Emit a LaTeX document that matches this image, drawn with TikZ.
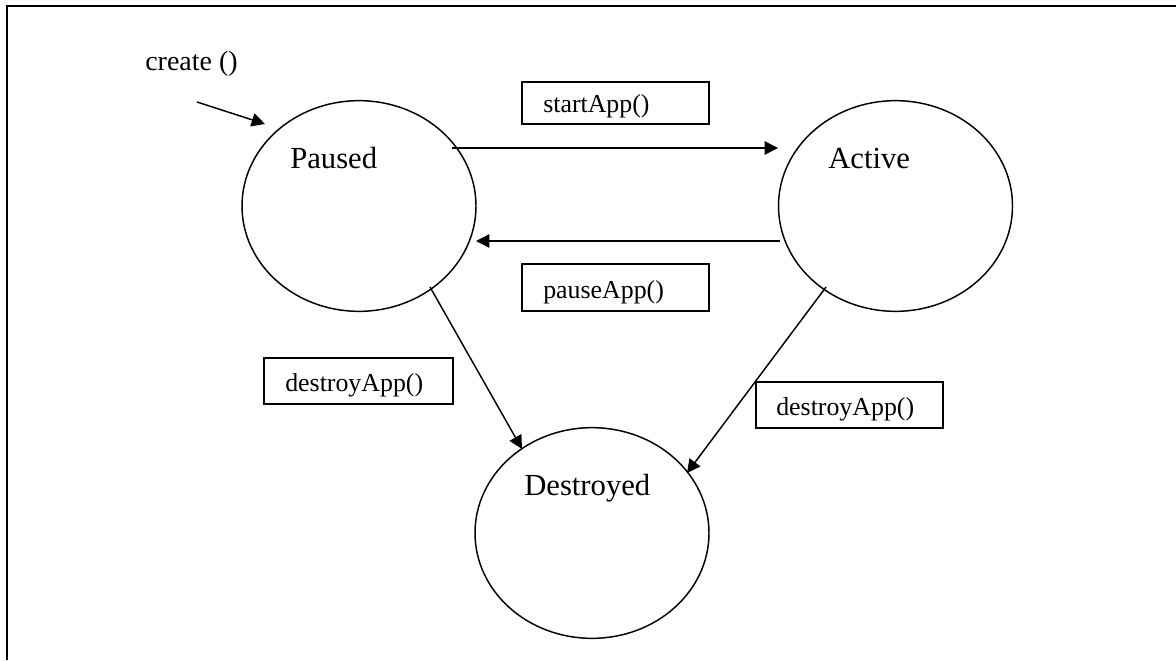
\documentclass[tikz,border=0pt]{standalone}
\usepackage{fontspec}
\setmainfont{Liberation Serif}
\usetikzlibrary{shapes.geometric,arrows.meta}
\begin{document}
\begin{tikzpicture}[x=0.75pt,y=-0.75pt,
  state/.style={draw,ellipse,line width=1.1pt,minimum width=175.5pt,minimum height=158pt,inner sep=0pt},
  statelbl/.style={inner sep=0pt,anchor=base west,font=\fontsize{23}{27}\selectfont},
  box/.style={draw,rectangle,line width=1.1pt,inner sep=0pt},
  boxlbl/.style={inner sep=0pt,anchor=base west,font=\fontsize{19.4}{23}\selectfont},
  trans/.style={line width=1.1pt,-{Triangle[length=10pt,width=10pt]}}]
\useasboundingbox (0,0) rectangle (1176,660);
\fill[white] (0,0) rectangle (1176,660);
% frame (only the top and left sides fall inside the page)
\draw[line width=1.5pt] (7,660) -- (7,6) -- (1176,6);

% states
\node[state] (paused) at (359,206) {};
\node[state] (active) at (895.5,206) {};
\node[state] (destroyed) at (592,533) {};
\node[statelbl] (pausedlbl) at (290,168) {Paused};
\node[statelbl] (activelbl) at (828,168) {Active};
\node[statelbl] (destroyedlbl) at (524,495) {Destroyed};

% initial transition
\node[inner sep=0pt,anchor=base west,font=\fontsize{21}{25}\selectfont] (createlbl) at (145,70) {create ()};
\coordinate (createfrom) at (197,102);
\coordinate (createto) at (265,124);
\draw[trans] (createfrom) -- (createto);

% transition labels
\node[box,minimum width=140.25pt,minimum height=31.5pt] (startbox) at (615.5,103) {};
\node[boxlbl] at (543,112) {startApp()};
\node[box,minimum width=140.25pt,minimum height=35.25pt] (pausebox) at (615.5,287.5) {};
\node[boxlbl] at (543,298) {pauseApp()};
\node[box,minimum width=141.75pt,minimum height=34.5pt] (destroybox1) at (358.5,381) {};
\node[boxlbl] at (285,391) {destroyApp()};
\node[box,minimum width=140.25pt,minimum height=34.5pt] (destroybox2) at (849.5,405) {};
\node[boxlbl] at (776,415) {destroyApp()};

% transitions
\coordinate (p1) at (452,148);
\coordinate (a1) at (778,148);
\coordinate (a2) at (780,241);
\coordinate (p2) at (476,241);
\coordinate (p3) at (430,287);
\coordinate (d1) at (522,449);
\coordinate (a3) at (826,287);
\coordinate (d2) at (687,473);
\draw[trans] (p1) -- (a1);
\draw[trans] (a2) -- (p2);
\draw[trans] (p3) -- (d1);
\draw[trans] (a3) -- (d2);
\end{tikzpicture}
\end{document}
